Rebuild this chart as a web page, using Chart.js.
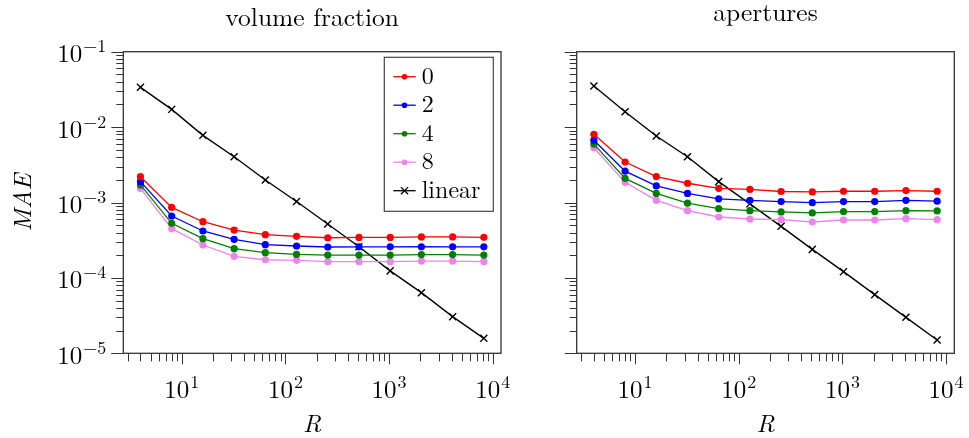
<!DOCTYPE html>
<html>
<head>
<meta charset="utf-8">
<script src="https://cdn.jsdelivr.net/npm/chart.js@4.4.0/dist/chart.umd.min.js"></script>
<style>
  html, body { margin: 0; padding: 0; background: #fff; }
  #wrap { position: relative; width: 969px; height: 438px; }
  canvas { position: absolute; top: 0; }
</style>
</head>
<body>
<div id="wrap">
  <canvas id="left" width="520" height="438" style="left:0"></canvas>
  <canvas id="right" width="449" height="438" style="left:520px"></canvas>
</div>
<script>
// resolution R
const rValues = [4, 8, 16, 32, 64, 128, 256, 512, 1024, 2048, 4096, 8192];

// volume fraction MAE
const vfErr0 = [2.20e-3, 8.6e-4, 5.56e-4, 4.31e-4, 3.74e-4, 3.56e-4, 3.41e-4, 3.44e-4, 3.44e-4, 3.50e-4, 3.50e-4, 3.45e-4];
const vfErr2 = [1.89e-3, 6.62e-4, 4.19e-4, 3.25e-4, 2.76e-4, 2.65e-4, 2.57e-4, 2.58e-4, 2.58e-4, 2.59e-4, 2.58e-4, 2.58e-4];
const vfErr4 = [1.71e-3, 5.30e-4, 3.31e-4, 2.44e-4, 2.16e-4, 2.05e-4, 2.01e-4, 2.01e-4, 2.01e-4, 2.04e-4, 2.04e-4, 2.01e-4];
const vfErr8 = [1.54e-3, 4.50e-4, 2.73e-4, 1.93e-4, 1.74e-4, 1.71e-4, 1.64e-4, 1.64e-4, 1.64e-4, 1.67e-4, 1.67e-4, 1.64e-4];
const vfLinear = [3.37e-2, 1.72e-2, 7.78e-3, 4.05e-3, 1.99e-3, 1.03e-3, 5.19e-4, 2.59e-4, 1.24e-4, 6.37e-5, 3.06e-5, 1.58e-5];

// apertures MAE
const apErr0 = [8.02e-3, 3.44e-3, 2.21e-3, 1.80e-3, 1.54e-3, 1.49e-3, 1.40e-3, 1.38e-3, 1.41e-3, 1.41e-3, 1.44e-3, 1.41e-3];
const apErr2 = [6.70e-3, 2.60e-3, 1.66e-3, 1.32e-3, 1.12e-3, 1.07e-3, 1.03e-3, 0.995e-3, 1.03e-3, 1.03e-3, 1.07e-3, 1.04e-3];
const apErr4 = [5.95e-3, 2.09e-3, 1.32e-3, 9.8e-4, 8.28e-4, 7.8e-4, 7.5e-4, 7.28e-4, 7.58e-4, 7.58e-4, 7.8e-4, 7.72e-4];
const apErr8 = [5.33e-3, 1.85e-3, 1.07e-3, 7.79e-4, 6.42e-4, 6.04e-4, 5.92e-4, 5.51e-4, 5.86e-4, 5.86e-4, 6.10e-4, 5.92e-4];
const apLinear = [3.51e-2, 1.60e-2, 7.62e-3, 4.05e-3, 1.89e-3, 9.6e-4, 4.83e-4, 2.39e-4, 1.21e-4, 6.0e-5, 3.0e-5, 1.50e-5];

const seriesLabels = ['0', '2', '4', '8', 'linear'];
const seriesColors = ['#ff0000', '#0000ff', '#008000', '#ee82ee', '#000000'];

const xTickExps = [1, 2, 3, 4];
const yTickExps = [-1, -2, -3, -4, -5];

const SERIF = '"Latin Modern Roman", "Liberation Serif", "DejaVu Serif", serif';
const xMin = Math.pow(10, 0.4365);
const xMax = Math.pow(10, 4.079);

function makeDatasets(lists) {
  return lists.map((vals, i) => {
    const isLinear = seriesLabels[i] === 'linear';
    return {
      label: seriesLabels[i],
      data: rValues.map((r, k) => ({ x: r, y: vals[k] })),
      borderColor: seriesColors[i],
      backgroundColor: seriesColors[i],
      borderWidth: isLinear ? 1.4 : 1.3,
      pointStyle: isLinear ? 'crossRot' : 'circle',
      pointRadius: isLinear ? 5 : 3.6,
      pointBorderWidth: isLinear ? 1.4 : 0,
      pointBorderColor: seriesColors[i],
      tension: 0
    };
  });
}

function drawPower(ctx, x, y, exp, align) {
  const base = '10';
  const sup = exp < 0 ? '\u2212' + (-exp) : String(exp);
  ctx.font = '25px ' + SERIF;
  const wb = ctx.measureText(base).width;
  ctx.font = '18px ' + SERIF;
  const ws = ctx.measureText(sup).width;
  const total = wb + 1 + ws;
  const left = align === 'right' ? x - total : x - total / 2;
  ctx.textAlign = 'left';
  ctx.textBaseline = 'alphabetic';
  ctx.font = '25px ' + SERIF;
  ctx.fillText(base, left, y);
  ctx.font = '18px ' + SERIF;
  ctx.fillText(sup, left + wb + 1, y - 10);
}

const axesPlugin = {
  id: 'pgfAxes',
  afterDatasetsDraw(chart, args, opts) {
    const ctx = chart.ctx;
    const a = chart.chartArea;
    const xs = chart.scales.x, ys = chart.scales.y;
    ctx.save();
    ctx.strokeStyle = '#333';
    ctx.fillStyle = '#000';
    ctx.lineWidth = 1;

    // y ticks (outside, left)
    for (let e = -5; e <= -1; e++) {
      for (let m = 1; m <= 9; m++) {
        const v = m * Math.pow(10, e);
        if (v > 0.1 * 1.0001) continue;
        const py = Math.round(ys.getPixelForValue(v)) + 0.5;
        const len = m === 1 ? 12 : 7;
        ctx.beginPath();
        ctx.moveTo(a.left - len, py);
        ctx.lineTo(a.left, py);
        ctx.stroke();
      }
    }
    // x ticks (outside, bottom)
    for (let e = 0; e <= 4; e++) {
      for (let m = 1; m <= 9; m++) {
        const v = m * Math.pow(10, e);
        if (v < xMin || v > xMax) continue;
        const px = Math.round(xs.getPixelForValue(v)) + 0.5;
        const len = m === 1 ? 11 : 8;
        ctx.beginPath();
        ctx.moveTo(px, a.bottom);
        ctx.lineTo(px, a.bottom + len);
        ctx.stroke();
      }
    }
    // frame
    ctx.lineWidth = 1.3;
    ctx.strokeRect(a.left, a.top, a.right - a.left, a.bottom - a.top);

    // tick labels
    xTickExps.forEach(e => {
      drawPower(ctx, xs.getPixelForValue(Math.pow(10, e)), a.bottom + 44.5, e, 'center');
    });
    if (opts.yLabels) {
      yTickExps.forEach(e => {
        drawPower(ctx, a.left - 17, ys.getPixelForValue(Math.pow(10, e)) + 10.5, e, 'right');
      });
    }

    // title
    const cx = (a.left + a.right) / 2;
    ctx.textAlign = 'center';
    ctx.textBaseline = 'alphabetic';
    ctx.font = '25.5px ' + SERIF;
    ctx.fillText(opts.title, cx, opts.titleBase);

    // axis labels
    ctx.font = 'italic 25px ' + SERIF;
    ctx.fillText('R', cx, 432);
    if (opts.yTitle) {
      ctx.save();
      ctx.translate(31, (a.top + a.bottom) / 2);
      ctx.rotate(-Math.PI / 2);
      ctx.fillText(opts.yTitle, 0, 0);
      ctx.restore();
    }

    // legend
    if (opts.legend) {
      const bw = 109, bh = 154;
      const bx = a.right - 7.7 - bw, by = a.top + 5.6;
      ctx.fillStyle = '#fff';
      ctx.fillRect(bx, by, bw, bh);
      ctx.strokeStyle = '#444';
      ctx.lineWidth = 1.2;
      ctx.strokeRect(bx, by, bw, bh);
      chart.data.datasets.forEach((ds, i) => {
        const ry = by + 19.4 + i * 28.5;
        ctx.strokeStyle = ds.borderColor;
        ctx.fillStyle = ds.borderColor;
        ctx.lineWidth = 1.3;
        ctx.beginPath();
        ctx.moveTo(bx + 9, ry);
        ctx.lineTo(bx + 31.4, ry);
        ctx.stroke();
        const mx = bx + 20.2;
        if (ds.pointStyle === 'circle') {
          ctx.beginPath();
          ctx.arc(mx, ry, 2.8, 0, Math.PI * 2);
          ctx.fill();
        } else {
          const d = 3.6;
          ctx.beginPath();
          ctx.moveTo(mx - d, ry - d); ctx.lineTo(mx + d, ry + d);
          ctx.moveTo(mx - d, ry + d); ctx.lineTo(mx + d, ry - d);
          ctx.stroke();
        }
        ctx.fillStyle = '#000';
        ctx.font = '24px ' + SERIF;
        ctx.textAlign = 'left';
        ctx.textBaseline = 'alphabetic';
        ctx.fillText(ds.label, bx + 37.4, ry + 7);
      });
    }
    ctx.restore();
  }
};

function makeChart(id, lists, padding, opts) {
  return new Chart(document.getElementById(id), {
    type: 'line',
    data: { datasets: makeDatasets(lists) },
    options: {
      responsive: false,
      animation: false,
      devicePixelRatio: 1,
      layout: { padding: padding },
      scales: {
        x: { type: 'logarithmic', min: xMin, max: xMax, display: false },
        y: { type: 'logarithmic', min: 1e-5, max: 1e-1, display: false }
      },
      plugins: {
        legend: { display: false },
        tooltip: { enabled: false },
        pgfAxes: opts
      }
    },
    plugins: [axesPlugin]
  });
}

makeChart('left', [vfErr0, vfErr2, vfErr4, vfErr8, vfLinear],
  { left: 123.3, right: 19, top: 51.7, bottom: 84.7 },
  { title: 'volume fraction', titleBase: 26, yLabels: true, yTitle: 'MAE', legend: true });

makeChart('right', [apErr0, apErr2, apErr4, apErr8, apLinear],
  { left: 56.7, right: 14.7, top: 51.7, bottom: 84.7 },
  { title: 'apertures', titleBase: 20.5, yLabels: false, yTitle: null, legend: false });
</script>
</body>
</html>
